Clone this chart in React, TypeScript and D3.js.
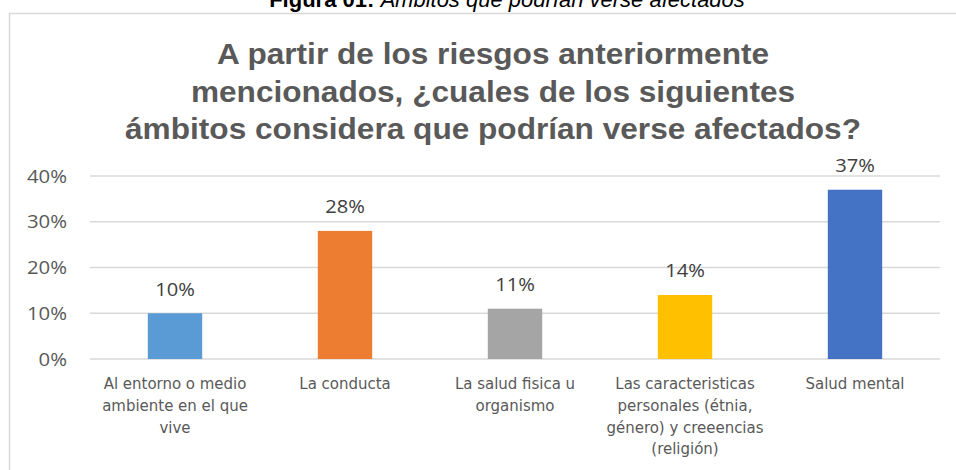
import React from "react";
import * as d3 from "d3";

const categories: string[] = [
  "Al entorno o medio\nambiente en el que\nvive",
  "La conducta",
  "La salud fisica u\norganismo",
  "Las caracteristicas\npersonales (étnia,\ngénero) y creeencias\n(religión)",
  "Salud mental",
];
const values: number[] = [0.1, 0.28, 0.11, 0.14, 0.37];
const barColors: string[] = ["#5B9BD5", "#ED7D31", "#A5A5A5", "#FFC000", "#4472C4"];
const yTicks: number[] = [0, 0.1, 0.2, 0.3, 0.4];
const titleLines: string[] = [
  "A partir de los riesgos anteriormente",
  "mencionados, ¿cuales de los siguientes",
  "ámbitos considera que podrían verse afectados?",
];
const captionBold = "Figura 01:";
const captionItalic = " Ámbitos que podrían verse afectados";

const W = 956;
const H = 470;
const plot = { left: 90, right: 940, top: 176, bottom: 359 };

export default function App() {
  const x = d3
    .scaleBand<string>()
    .domain(categories)
    .range([plot.left, plot.right])
    .padding(0);
  const y = d3.scaleLinear().domain([0, 0.4]).range([plot.bottom, plot.top]);
  const fmt = d3.format(".0%");
  const barW = x.bandwidth() * 0.32;
  const labelFont = "'Liberation Sans Narrow', 'DejaVu Sans Condensed', 'Liberation Sans', sans-serif";
  const numFont = "'Open Sans', 'Liberation Sans', sans-serif";

  return (
    <svg
      width={W}
      height={H}
      style={{ position: "absolute", left: 0, top: 0, background: "#fff" }}
    >
      <rect x={0} y={0} width={W} height={H} fill="#fff" />
      {/* chart border */}
      <rect
        x={9.5}
        y={13.5}
        width={W + 20}
        height={H + 20}
        fill="none"
        stroke="#D9D9D9"
        strokeWidth={1.5}
      />
      {/* caption */}
      <text
        x={507}
        y={7}
        textAnchor="middle"
        fontFamily="'Liberation Sans', Arial, sans-serif"
        fontSize={22}
        fill="#000"
      >
        <tspan fontWeight="bold">{captionBold}</tspan>
        <tspan fontStyle="italic">{captionItalic}</tspan>
      </text>
      {/* title */}
      {titleLines.map((t, i) => (
        <text
          key={i}
          transform={`translate(493, ${64 + i * 37.5}) scale(1.09, 1)`}
          x={0}
          y={0}
          textAnchor="middle"
          fontFamily="'Liberation Sans', Arial, sans-serif"
          fontWeight="bold"
          fontSize={29}
          fill="#595959"
        >
          {t}
        </text>
      ))}
      {/* gridlines */}
      {yTicks.map((t) => (
        <line
          key={t}
          x1={plot.left}
          x2={plot.right}
          y1={y(t)}
          y2={y(t)}
          stroke="#D9D9D9"
          strokeWidth={1.5}
        />
      ))}
      {/* y tick labels */}
      {yTicks.map((t) => (
        <text
          key={"l" + t}
          transform={`translate(67, ${y(t) + 6.5}) scale(1.13, 1)`}
          x={0}
          y={0}
          textAnchor="end"
          fontFamily={numFont}
          fontSize={18}
          fill="#595959"
        >
          {fmt(t)}
        </text>
      ))}
      {/* bars */}
      {categories.map((c, i) => {
        const cx = (x(c) as number) + x.bandwidth() / 2;
        return (
          <g key={c}>
            <rect
              x={cx - barW / 2}
              y={y(values[i])}
              width={barW}
              height={y(0) - y(values[i])}
              fill={barColors[i]}
            />
            <text
              transform={`translate(${cx}, ${y(values[i]) - 17.5}) scale(1.06, 1)`}
              x={0}
              y={0}
              textAnchor="middle"
              fontFamily={numFont}
              fontSize={19}
              fill="#404040"
            >
              {fmt(values[i])}
            </text>
            <text
              transform={`translate(${cx}, 389) scale(1.04, 1)`}
              x={0}
              y={0}
              textAnchor="middle"
              fontFamily={labelFont}
              fontSize={16}
              fill="#595959"
            >
              {c.split("\n").map((ln, j) => (
                <tspan key={j} x={0} dy={j === 0 ? 0 : 21.8}>
                  {ln}
                </tspan>
              ))}
            </text>
          </g>
        );
      })}
    </svg>
  );
}
